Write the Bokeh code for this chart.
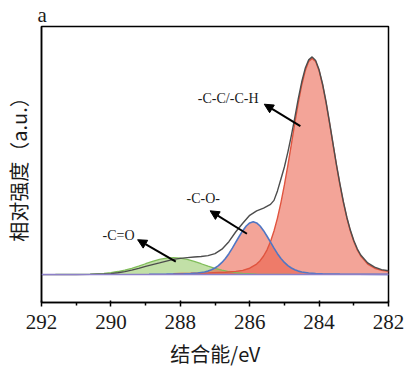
from bokeh.plotting import figure
from bokeh.models import Range1d, FixedTicker, Label, Arrow, NormalHead, Span
from bokeh.embed import file_html
from bokeh.resources import INLINE

# ---- data (binding energy in eV, intensity in a.u.) ----
env_energy = [292.0, 291.0, 290.6, 290.2, 290.0, 289.8, 289.6, 289.4, 289.2, 289.0,
              288.8, 288.6, 288.4, 288.2, 288.0, 287.8, 287.6, 287.4, 287.2, 287.0,
              286.8, 286.6, 286.4, 286.2, 286.0, 285.8, 285.6, 285.4, 285.3, 285.2,
              285.1, 285.0, 284.9, 284.8, 284.7, 284.6, 284.5, 284.4, 284.3, 284.2,
              284.1, 284.0, 283.9, 283.8, 283.7, 283.6, 283.5, 283.4, 283.3, 283.2,
              283.1, 283.0, 282.9, 282.8, 282.6, 282.4, 282.2, 282.0]
env_intensity = [0.0, 0.0, 0.2, 0.6, 1.0, 1.8, 3.0, 4.5, 6.3, 8.3,
                 10.0, 11.7, 13.5, 15.3, 16.3, 17.0, 17.6, 18.2, 19.0, 21.0,
                 25.5, 33.0, 43.0, 51.5, 59.5, 64.0, 66.8, 70.5, 74.5, 84.0,
                 96.0, 108.0, 123.0, 139.5, 157.5, 176.5, 193.5, 207.0, 215.5, 218.5,
                 215.0, 205.5, 191.3, 173.5, 153.0, 131.7, 110.5, 91.0, 73.2, 57.6,
                 44.7, 34.2, 25.9, 19.7, 11.8, 7.5, 5.0, 3.8]

cc_energy = [288.2, 287.7, 287.2, 286.7, 286.4, 286.2, 286.0, 285.8, 285.7, 285.6,
             285.5, 285.4, 285.3, 285.2, 285.1, 285.0, 284.9, 284.8, 284.7, 284.6,
             284.5, 284.4, 284.3, 284.2, 284.1, 284.0, 283.9, 283.8, 283.7, 283.6,
             283.5, 283.4, 283.3, 283.2, 283.1, 283.0, 282.9, 282.8, 282.6, 282.4,
             282.2, 282.0]
cc_intensity = [1.0, 1.3, 1.7, 2.4, 3.2, 4.3, 6.4, 10.6, 14.0, 18.7,
                24.9, 33.3, 43.8, 56.7, 72.3, 90.0, 109.7, 130.8, 152.1, 172.4,
                190.3, 204.6, 213.8, 217.0, 213.8, 204.6, 190.3, 172.4, 152.1, 130.8,
                109.7, 90.0, 72.3, 56.7, 43.8, 33.3, 24.9, 18.7, 10.6, 6.4,
                4.3, 3.2]

co_energy = [288.9, 288.4, 287.9, 287.7, 287.5, 287.3, 287.2, 287.1, 287.0, 286.9,
             286.8, 286.7, 286.6, 286.5, 286.4, 286.3, 286.2, 286.1, 286.0, 285.9,
             285.8, 285.7, 285.6, 285.5, 285.4, 285.3, 285.2, 285.1, 285.0, 284.9,
             284.8, 284.7, 284.6, 284.5, 284.3, 284.1, 283.9, 283.4, 282.9, 282.0]
co_intensity = [0.4, 0.6, 0.9, 1.1, 1.6, 2.6, 3.5, 4.8, 6.6, 9.0,
                12.2, 16.2, 21.0, 26.5, 32.5, 38.5, 44.1, 48.8, 51.9, 53.0,
                51.9, 48.8, 44.1, 38.5, 32.5, 26.5, 21.0, 16.2, 12.2, 9.0,
                6.6, 4.8, 3.5, 2.6, 1.6, 1.1, 0.9, 0.6, 0.4, 0.2]

cdo_energy = [291.6, 291.0, 290.6, 290.2, 290.0, 289.8, 289.6, 289.4, 289.2, 289.0,
              288.8, 288.6, 288.4, 288.2, 288.0, 287.8, 287.6, 287.4, 287.2, 287.0,
              286.8, 286.6, 286.4, 286.2, 285.8, 285.4, 284.8]
cdo_intensity = [0.14, 0.26, 0.5, 1.3, 2.0, 3.1, 4.5, 6.3, 8.5, 10.9,
                 13.2, 15.2, 16.5, 17.0, 16.5, 15.2, 13.2, 10.9, 8.5, 6.3,
                 4.5, 3.1, 2.0, 1.3, 0.5, 0.26, 0.14]

x_ticks = [292, 290, 288, 286, 284, 282]
x_minor_ticks = [291, 289, 287, 285, 283]

# annotation texts and placements (data coordinates)
ann_text = ["-C-C/-C-H", "-C-O-", "-C=O"]
ann_x = [286.62, 287.34, 289.78]
ann_y = [177.0, 76.0, 39.0]
arrow_x0 = [284.54, 286.08, 288.13]
arrow_y0 = [149.0, 41.0, 13.0]
arrow_x1 = [285.58, 287.14, 289.23]
arrow_y1 = [171.0, 64.0, 35.0]

SERIF = "Liberation Serif"
CJK = "Noto Sans CJK SC"

p = figure(width=406, height=377, output_backend="svg", toolbar_location=None,
           x_range=Range1d(292, 282), y_range=Range1d(-28, 249),
           min_border_left=35, min_border_right=18, min_border_top=25,
           min_border_bottom=75)
p.background_fill_color = "white"
p.border_fill_color = "white"
p.xgrid.visible = False
p.ygrid.visible = False
p.outline_line_color = "black"
p.outline_line_width = 1.5
p.outline_line_alpha = 1.0

# panel letter as title
p.title.text = "a"
p.title.align = "left"
p.title.text_font = SERIF
p.title.text_font_size = "21px"
p.title.text_font_style = "normal"
p.title.text_color = "#1a1a1a"
p.title.standoff = 0
p.title.offset = -4

# fills
p.varea(x=cdo_energy, y1=0, y2=cdo_intensity, fill_color="#9acb6c", fill_alpha=0.6)
p.varea(x=co_energy, y1=0, y2=co_intensity, fill_color="#ea5a44", fill_alpha=0.55)
p.varea(x=cc_energy, y1=0, y2=cc_intensity, fill_color="#ea5a44", fill_alpha=0.55)

# outlines
p.line(cdo_energy, cdo_intensity, line_color="#80bd5a", line_width=1.3)
p.line(cc_energy, cc_intensity, line_color="#e0543f", line_width=1.4)
p.line(co_energy, co_intensity, line_color="#4f76c4", line_width=1.6)

p.add_layout(Span(location=0, dimension="width", line_color="#8d80c8", line_width=1.5))

# envelope
p.line(env_energy, env_intensity, line_color="#4d4d4d", line_width=1.4)

# annotations
for t, x, y in zip(ann_text, ann_x, ann_y):
    p.add_layout(Label(x=x, y=y, text=t, text_align="center", text_baseline="middle",
                       text_font=SERIF, text_font_size="14px", text_color="#1a1a1a"))
for xs, ys, xe, ye in zip(arrow_x0, arrow_y0, arrow_x1, arrow_y1):
    p.add_layout(Arrow(end=NormalHead(size=9, fill_color="black", line_color="black",
                                      line_width=1),
                       x_start=xs, y_start=ys, x_end=xe, y_end=ye,
                       line_color="black", line_width=2))

# x axis
xa = p.xaxis[0]
xa.ticker = FixedTicker(ticks=x_ticks, minor_ticks=x_minor_ticks)
xa.axis_line_color = "black"
xa.axis_line_width = 1.5
xa.major_tick_line_color = "black"
xa.major_tick_line_width = 1.5
xa.major_tick_in = 2
xa.major_tick_out = 4
xa.minor_tick_line_color = "black"
xa.minor_tick_line_width = 1.5
xa.minor_tick_in = 0
xa.minor_tick_out = 3
xa.major_label_text_font = SERIF
xa.major_label_text_font_size = "21px"
xa.major_label_text_color = "#1a1a1a"
xa.major_label_standoff = 8
xa.axis_label = "结合能/eV"
xa.axis_label_text_font = CJK
xa.axis_label_text_font_size = "20px"
xa.axis_label_text_font_style = "normal"
xa.axis_label_text_color = "#1a1a1a"
xa.axis_label_standoff = 7

# y axis (no ticks or tick labels)
ya = p.yaxis[0]
ya.ticker = FixedTicker(ticks=[], minor_ticks=[])
ya.axis_line_color = "black"
ya.axis_line_width = 1.5
ya.major_tick_line_color = None
ya.minor_tick_line_color = None
ya.major_tick_in = 0
ya.major_tick_out = 0
ya.minor_tick_in = 0
ya.minor_tick_out = 0
ya.major_label_standoff = 0
ya.axis_label = "相对强度（a.u.）"
ya.axis_label_text_font = CJK
ya.axis_label_text_font_size = "20px"
ya.axis_label_text_font_style = "normal"
ya.axis_label_text_color = "#1a1a1a"
ya.axis_label_standoff = 9

open("out.html", "w").write(file_html(p, INLINE))
